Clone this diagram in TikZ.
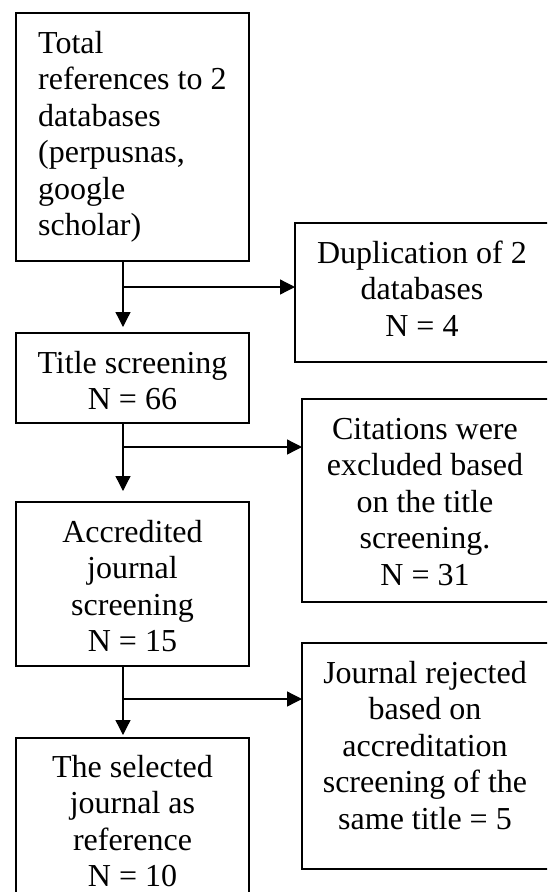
\documentclass[tikz,border=0pt]{standalone}
\usepackage{fontspec}
\setmainfont{Liberation Serif}
\usetikzlibrary{arrows.meta}
\begin{document}
\begin{tikzpicture}[x=1pt,y=-1pt,
  boxnode/.style={draw, line width=1.3pt, rectangle, inner sep=0pt, outer sep=0pt, anchor=north west},
  txt/.style={inner sep=0pt, font=\fontsize{32}{36.5}\selectfont, align=center, anchor=base},
  conn/.style={line width=1.3pt},
  arr/.style={conn, -{Triangle[length=15pt,width=15pt]}}]
\fill[white] (0,0) rectangle (547,892);
\clip (0,0) rectangle (547,892);
% boxes
\node[boxnode, minimum width=233pt, minimum height=248pt] (b1) at (16,13) {};
\node[boxnode, minimum width=254pt, minimum height=139pt] (dup) at (295,223) {};
\node[boxnode, minimum width=233pt, minimum height=90pt] (title) at (16,333) {};
\node[boxnode, minimum width=247pt, minimum height=203pt] (cit) at (302,399) {};
\node[boxnode, minimum width=233pt, minimum height=164pt] (acc) at (16,502) {};
\node[boxnode, minimum width=247pt, minimum height=226pt] (rej) at (302,643) {};
\node[boxnode, minimum width=233pt, minimum height=170pt] (fin) at (16,738) {};
% texts (anchor = baseline of the last line)
\node[txt, align=left, anchor=base west] (t1) at (38,235.5) {Total\\references to 2\\databases\\(perpusnas,\\google\\scholar)};
\node[txt] (t2) at (422,336) {Duplication of 2\\databases\\N = 4};
\node[txt] (t3) at (132.5,409.5) {Title screening\\N = 66};
\node[txt] (t4) at (425,585) {Citations were\\excluded based\\on the title\\screening.\\N = 31};
\node[txt] (t5) at (132.5,651.5) {Accredited\\journal\\screening\\N = 15};
\node[txt] (t6) at (425,829) {Journal rejected\\based on\\accreditation\\screening of the\\same title = 5};
\node[txt] (t7) at (132.5,886.5) {The selected\\journal as\\reference\\N = 10};
% junctions
\coordinate (j1) at (123,287);
\coordinate (j2) at (123,447);
\coordinate (j3) at (123,699);
% connectors
\draw[arr, shorten >=6pt] (b1.south -| j1) -- (title.north -| j1);
\draw[arr] (j1) -- (dup.west |- j1);
\draw[arr, shorten >=11pt] (title.south -| j2) -- (acc.north -| j2);
\draw[arr] (j2) -- (cit.west |- j2);
\draw[arr, shorten >=3pt] (acc.south -| j3) -- (fin.north -| j3);
\draw[arr] (j3) -- (rej.west |- j3);
\end{tikzpicture}
\end{document}
